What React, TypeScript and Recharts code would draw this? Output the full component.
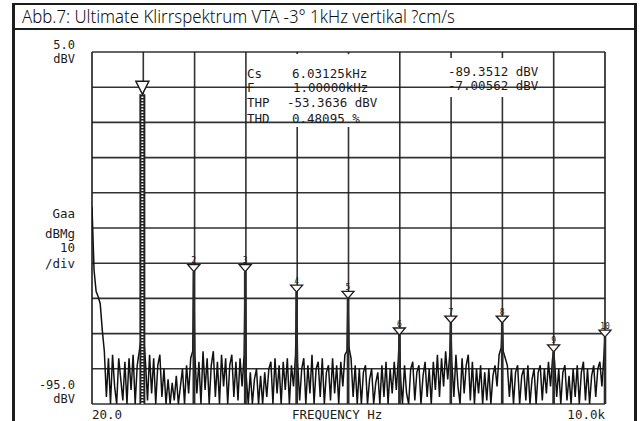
import React from "react";
import {
  ComposedChart,
  Line,
  XAxis,
  YAxis,
  CartesianGrid,
  ReferenceLine,
  ReferenceDot,
} from "recharts";

const MONO = '"DejaVu Sans Mono", monospace';
const INK = "#1c1c1c";

// analyzer readout
const CURSOR_HZ = 6031.25;
const CURSOR_DBV = -89.3512;
const THP_DBV = -53.3636;
const THD_PCT = 0.48095;

// fundamental followed by harmonics 2..10
const HARMONIC_HZ = [1000, 2000, 3000, 4000, 5000, 6000, 7000, 8000, 9000, 10000];
const HARMONIC_DBV = [-7.00562, -57.4, -57.4, -63.2, -65.0, -75.4, -72.0, -72.0, -80.2, -76.0];

// FFT bins: 40 Hz apart from 20 Hz, 25 bins in every band between harmonics
const START_HZ = 20;
const BIN_HZ = 40;
const BAND_0 = [-39, -57, -63, -64.5, -66.5, -74, -80, -93, -82, -95, -81, -90, -95, -82, -88, -94, -83, -95, -82, -91, -81, -95, -84, -80, -76];
const BAND_1 = [-75, -83, -94, -81, -92, -82, -95, -84, -81, -93, -85, -95, -88, -95, -89, -94, -87, -95, -90, -85, -95, -84, -92, -82, -80];
const BAND_2 = [-81, -92, -83, -95, -80, -91, -82, -95, -84, -80, -93, -83, -95, -81, -90, -82, -95, -84, -81, -93, -83, -94, -82, -90, -81];
const BAND_3 = [-87, -95, -86, -95, -88, -85, -95, -87, -95, -86, -93, -85, -83, -95, -82, -92, -84, -95, -83, -91, -82, -95, -84, -90, -81];
const BAND_4 = [-83, -94, -85, -82, -95, -84, -92, -81, -95, -85, -83, -93, -82, -95, -86, -84, -94, -82, -92, -84, -95, -83, -90, -81, -80];
const BAND_5 = [-79, -82, -93, -84, -95, -85, -95, -86, -84, -95, -88, -85, -95, -89, -86, -95, -84, -93, -83, -95, -85, -92, -83, -91, -82];
const BAND_6 = [-86, -95, -84, -92, -95, -85, -83, -94, -86, -84, -95, -87, -83, -93, -85, -95, -83, -91, -81, -93, -82, -90, -80, -88, -81];
const BAND_7 = [-83, -93, -81, -90, -95, -82, -92, -84, -81, -94, -83, -95, -85, -92, -84, -95, -86, -94, -85, -95, -87, -84, -90, -81, -79];
const BAND_8 = [-80, -82, -84, -93, -85, -95, -86, -84, -95, -87, -85, -94, -84, -95, -88, -85, -95, -86, -84, -94, -85, -92, -83, -90, -82];
const BAND_9 = [-83, -93, -85, -95, -86, -84, -94, -87, -95, -85, -93, -84, -95, -86, -83, -94, -85, -95, -87, -84, -93, -85, -83, -90, -81];
const BANDS = [BAND_0, BAND_1, BAND_2, BAND_3, BAND_4, BAND_5, BAND_6, BAND_7, BAND_8, BAND_9];

const Y_TICKS = [-95, -85, -75, -65, -55, -45, -35, -25, -15, -5, 5];
const X_TICKS = [20, 10000];
// vertical divisions, 998 Hz each
const GRID_HZ = [1018, 2016, 3014, 4012, 5010, 6008, 7006, 8004, 9002];
// divisions cut by the readout block: [hz, gap from, gap to]
const GRID_GAPS: [number, number, number][] = [
  [4012, -16.3, 4.4],
  [5010, -16.3, 4.4],
  [7006, -7.8, 3.3],
  [8004, -7.8, 3.3],
];

const spectrum: { f: number; dbv: number }[] = [];
BANDS.forEach((band, b) => {
  band.forEach((dbv, i) => spectrum.push({ f: START_HZ + (b * 25 + i) * BIN_HZ, dbv }));
  spectrum.push({ f: HARMONIC_HZ[b], dbv: HARMONIC_DBV[b] });
});
spectrum.push({ f: CURSOR_HZ, dbv: CURSOR_DBV });
spectrum.sort((a, b) => a.f - b.f);

const YTick = (props: any) => {
  const { x, y, payload } = props;
  const common = { fontFamily: MONO, fontSize: 12, fill: INK, textAnchor: "end" as const };
  if (payload.value === 5) {
    return (
      <g>
        <text x={x} y={y - 3} {...common}>5.0</text>
        <text x={x} y={y + 11} {...common}>dBV</text>
      </g>
    );
  }
  if (payload.value === -95) {
    return (
      <g>
        <text x={x} y={y - 15} {...common}>-95.0</text>
        <text x={x} y={y - 1} {...common}>dBV</text>
      </g>
    );
  }
  return <g />;
};

const XTick = (props: any) => {
  const { x, y, payload } = props;
  const first = payload.value === X_TICKS[0];
  return (
    <text x={x} y={y + 15} fontFamily={MONO} fontSize={12.5} fill={INK} textAnchor={first ? "start" : "end"}>
      {first ? "20.0" : "10.0k"}
    </text>
  );
};

const YTitle = (props: any) => {
  const { viewBox } = props;
  const x = viewBox.x + viewBox.width - 17;
  const lines = [
    ["Gaa", 166],
    ["dBMg", 186],
    ["10", 200],
    ["/div", 216],
  ] as const;
  return (
    <g>
      {lines.map(([t, dy]) => (
        <text key={t} x={x} y={viewBox.y + dy} fontFamily={MONO} fontSize={12.5} fill={INK} textAnchor="end">
          {t}
        </text>
      ))}
    </g>
  );
};

const XTitle = (props: any) => {
  const { viewBox } = props;
  return (
    <text x={viewBox.x + 200} y={viewBox.y + 15} fontFamily={MONO} fontSize={12.5} fill={INK}>
      FREQUENCY Hz
    </text>
  );
};

const FundamentalMarker = (props: any) => {
  const { cx, cy } = props;
  return (
    <path
      d={`M${cx},${cy} L${cx - 6.5},${cy - 13} L${cx + 6.5},${cy - 13} Z`}
      fill="#fff"
      stroke={INK}
      strokeWidth={1.5}
    />
  );
};

const harmonicMarker = (n: number) => (props: any) => {
  const { cx, cy } = props;
  return (
    <g>
      <path
        d={`M${cx},${cy} L${cx - 6},${cy - 7} L${cx + 6},${cy - 7} Z`}
        fill="#fff"
        stroke={INK}
        strokeWidth={1.3}
      />
      <text x={cx} y={cy - 8.5} fontFamily={MONO} fontSize={8} fill={INK} textAnchor="middle">
        {n}
      </text>
    </g>
  );
};

const readout = [
  { t: "Cs", x: 247, y: 78 },
  { t: `${(CURSOR_HZ / 1000).toFixed(5)}kHz`, x: 292, y: 78 },
  { t: `${CURSOR_DBV.toFixed(4)} dBV`, x: 448, y: 76 },
  { t: "F", x: 247, y: 92 },
  { t: `${(HARMONIC_HZ[0] / 1000).toFixed(5)}kHz`, x: 293, y: 92 },
  { t: `${HARMONIC_DBV[0].toFixed(5)} dBV`, x: 448, y: 90 },
  { t: "THP", x: 247, y: 107 },
  { t: `${THP_DBV.toFixed(4)} dBV`, x: 287, y: 107 },
  { t: "THD", x: 247, y: 123 },
  { t: `${THD_PCT.toFixed(5)} %`, x: 292, y: 123 },
];

export default function App() {
  return (
    <div style={{ position: "absolute", left: 0, top: 0, width: 640, height: 421, background: "#fff", overflow: "hidden" }}>
      {/* frame and caption bar */}
      <div
        style={{
          position: "absolute",
          left: 12,
          top: 3,
          width: 619,
          height: 440,
          borderLeft: `3px solid ${INK}`,
          borderRight: `3px solid ${INK}`,
          borderTop: `2px solid ${INK}`,
        }}
      />
      <div style={{ position: "absolute", left: 12, top: 28, width: 625, height: 2, background: INK }} />
      <svg width={640} height={30} style={{ position: "absolute", left: 0, top: 0 }}>
        <text
          x={22}
          y={23}
          fontFamily='"Noto Sans", "Open Sans", sans-serif'
          fontWeight={300}
          fontSize={19}
          fill="#111"
          textLength={433}
          lengthAdjust="spacingAndGlyphs"
        >
          Abb.7: Ultimate Klirrspektrum VTA -3° 1kHz vertikal ?cm/s
        </text>
      </svg>

      <div style={{ position: "absolute", left: 0, top: 0 }}>
        <ComposedChart width={640} height={421} data={spectrum} margin={{ top: 52, right: 35, bottom: 0, left: 12 }}>
          <XAxis
            type="number"
            dataKey="f"
            domain={[20, 10000]}
            ticks={X_TICKS}
            allowDataOverflow
            axisLine={false}
            tickLine={false}
            tickSize={0}
            tickMargin={0}
            height={17}
            tick={XTick}
            label={{ content: XTitle }}
          />
          <YAxis
            type="number"
            domain={[-95, 5]}
            ticks={Y_TICKS}
            allowDataOverflow
            axisLine={false}
            tickLine={false}
            tickSize={0}
            tickMargin={17}
            width={80}
            tick={YTick}
            label={{ content: YTitle }}
          />
          <CartesianGrid vertical={false} stroke={INK} strokeWidth={1.6} strokeOpacity={0.9} />
          <ReferenceLine x={20} stroke={INK} strokeWidth={1.6} />
          <ReferenceLine x={10000} stroke={INK} strokeWidth={1.6} />
          {GRID_HZ.filter((f) => !GRID_GAPS.some((g) => g[0] === f)).map((f) => (
            <ReferenceLine key={f} x={f} stroke={INK} strokeWidth={1.6} strokeOpacity={0.9} />
          ))}
          {GRID_GAPS.map(([f, lo]) => (
            <ReferenceLine key={`a${f}`} segment={[{ x: f, y: -95 }, { x: f, y: lo }]} stroke={INK} strokeWidth={1.6} strokeOpacity={0.9} />
          ))}
          {GRID_GAPS.map(([f, , hi]) => (
            <ReferenceLine key={`b${f}`} segment={[{ x: f, y: hi }, { x: f, y: 5 }]} stroke={INK} strokeWidth={1.6} strokeOpacity={0.9} />
          ))}

          <Line type="linear" dataKey="dbv" stroke="#111" strokeWidth={1.5} dot={false} isAnimationActive={false} />

          {/* fundamental drawn as a ladder, harmonics as heavy strokes */}
          <ReferenceLine
            segment={[{ x: HARMONIC_HZ[0], y: -95 }, { x: HARMONIC_HZ[0], y: HARMONIC_DBV[0] }]}
            stroke="#222"
            strokeWidth={6}
          />
          <ReferenceLine
            segment={[{ x: HARMONIC_HZ[0], y: -95 }, { x: HARMONIC_HZ[0], y: HARMONIC_DBV[0] }]}
            stroke="#fff"
            strokeWidth={2}
            strokeDasharray="1.5 1.5"
          />
          {HARMONIC_HZ.slice(1).map((f, i) => (
            <ReferenceLine
              key={`h${f}`}
              segment={[{ x: f, y: -95 }, { x: f, y: HARMONIC_DBV[i + 1] }]}
              stroke="#2a2a2a"
              strokeWidth={2.6}
            />
          ))}

          <ReferenceDot x={HARMONIC_HZ[0]} y={HARMONIC_DBV[0]} r={6} shape={FundamentalMarker} />
          {HARMONIC_HZ.slice(1).map((f, i) => (
            <ReferenceDot key={`m${f}`} x={f} y={HARMONIC_DBV[i + 1]} r={6} shape={harmonicMarker(i + 2)} />
          ))}
        </ComposedChart>
      </div>

      <svg width={640} height={421} style={{ position: "absolute", left: 0, top: 0, pointerEvents: "none" }}>
        {readout.map((r) => (
          <text key={r.t} x={r.x} y={r.y} fontFamily={MONO} fontSize={12.5} fill={INK}>
            {r.t}
          </text>
        ))}
      </svg>
    </div>
  );
}
